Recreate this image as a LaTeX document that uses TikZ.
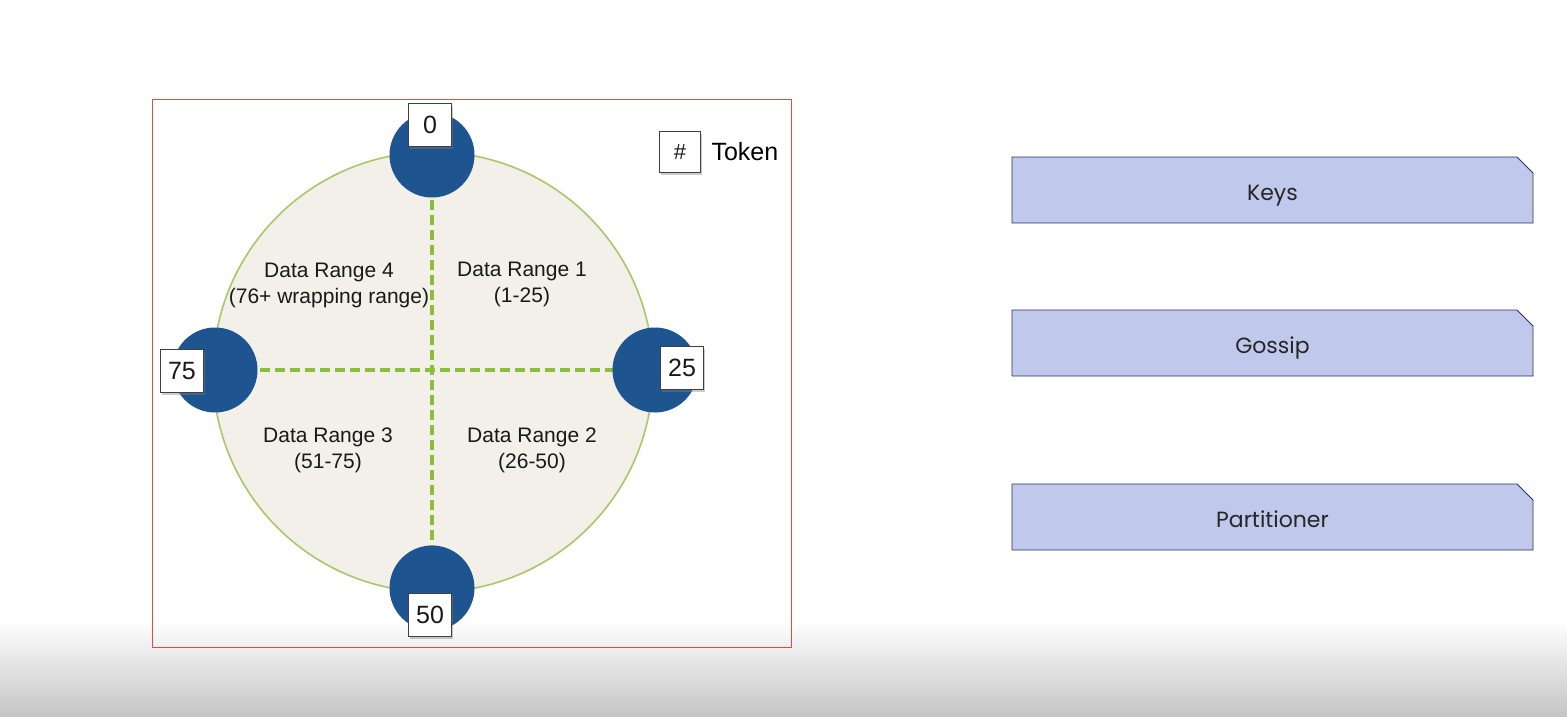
\documentclass[tikz,border=0pt]{standalone}
\usepackage{fontspec}
\setmainfont{Liberation Sans}
\newfontfamily\slidefont{Poppins}
\usetikzlibrary{shapes.misc,shadows}

\definecolor{ringfill}{RGB}{242,240,232}
\definecolor{ringline}{RGB}{170,200,105}
\definecolor{splitgreen}{RGB}{140,190,60}
\definecolor{tokenblue}{RGB}{30,85,145}
\definecolor{framered}{RGB}{215,80,70}
\definecolor{topicfill}{RGB}{192,200,236}
\definecolor{topicline}{RGB}{40,50,100}

\tikzset{
  tokenbox/.style={draw=black!75, fill=white, minimum width=43pt, minimum height=43pt,
    inner sep=0pt, font=\fontsize{25}{27}\selectfont, text=black!90,
    drop shadow={shadow xshift=1pt, shadow yshift=-2.5pt, opacity=0.4}},
  rangetext/.style={align=center, font=\fontsize{21}{26}\selectfont, text=black!90},
  topicbox/.style={chamfered rectangle, chamfered rectangle corners=north east,
    chamfered rectangle xsep=8pt, chamfered rectangle ysep=8pt,
    draw=topicline, line width=0.9pt, fill=topicfill, minimum width=521pt, minimum height=66pt,
    inner sep=0pt, text height=24pt, text depth=3pt,
    font=\slidefont\fontsize{22}{24}\selectfont, text=black!85}
}

\begin{document}
\begin{tikzpicture}[x=1pt, y=-1pt]
        \useasboundingbox (0, 0) rectangle (1567, 717);
        \fill[white] (0, 0) rectangle (1567, 620);
        \shade[top color=white, bottom color=black!23] (0, 620) rectangle (1567, 717);

        % ring and frame
        \draw[framered, line width=0.9pt] (152, 99) rectangle (791, 647);
        \coordinate (C) at (433, 372);
        \filldraw[fill=ringfill, draw=ringline, line width=1.6pt] (C) circle (220);

        \coordinate (N) at (432, 155);
        \coordinate (E) at (655, 370);
        \coordinate (S) at (432, 588);
        \coordinate (W) at (215, 370);

        \draw[splitgreen, line width=3.6pt, dash pattern=on 10pt off 5pt] (N) -- (S);
        \draw[splitgreen, line width=3.6pt, dash pattern=on 10pt off 5pt] (W) -- (E);

        \foreach \p in {N, E, S, W}
            \fill[tokenblue] (\p) circle (42.5);

        % tokens
        \node[tokenbox] (t0) at (430, 125) {0};
        \node[tokenbox] (t25) at (682, 368) {25};
        \node[tokenbox] (t50) at (430, 615) {50};
        \node[tokenbox] (t75) at (182, 371) {75};

        \node[rangetext] (r4) at (329, 285) {Data Range 4\\(76+ wrapping range)};
        \node[rangetext] (r1) at (522, 284) {Data Range 1\\(1-25)};
        \node[rangetext] (r3) at (328, 450) {Data Range 3\\(51-75)};
        \node[rangetext] (r2) at (532, 450) {Data Range 2\\(26-50)};

        % legend
        \node[tokenbox, minimum width=41pt, minimum height=41pt, font=\fontsize{22}{24}\selectfont] (hash) at (680, 152) {\#};
        \node[anchor=west, font=\fontsize{25}{27}\selectfont] (tok) at (708, 152) {Token};

        % topics
        \node[topicbox] (keys) at (1272.5, 190) {Keys};
        \node[topicbox] (gossip) at (1272.5, 343) {Gossip};
        \node[topicbox] (part) at (1272.5, 517) {Partitioner};
    \end{tikzpicture}
\end{document}
